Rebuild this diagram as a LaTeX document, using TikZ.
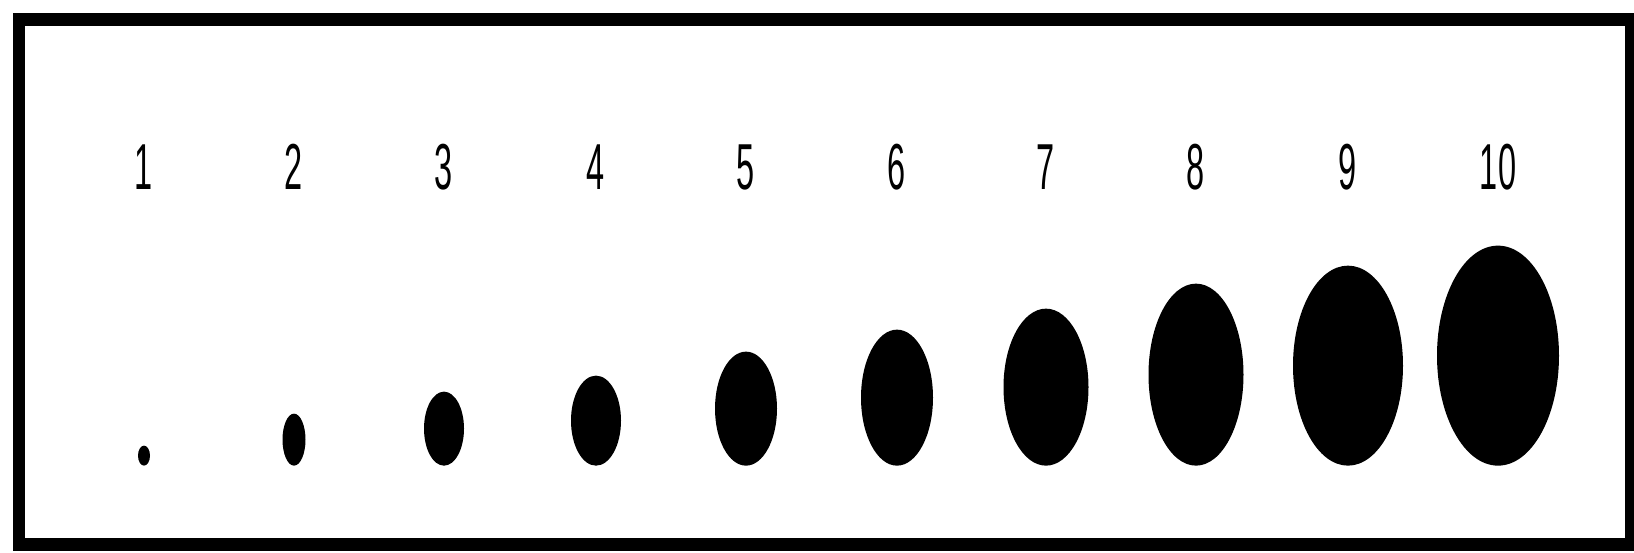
\documentclass[tikz,border=0pt]{standalone}
\usepackage{fontspec}
\setmainfont{Liberation Sans}
\usetikzlibrary{
    shapes.geometric
}
\tikzset{
  frame/.style={
    black,
    line width=0.26cm
  },
  blob/.style={
    ellipse,
    fill=black,
    inner sep=0pt,
    anchor=south
  },
  numlabel/.style={
    anchor=base,
    inner sep=0pt,
    font=\fontsize{37}{37}\selectfont
  }
}

\begin{document}
\begin{tikzpicture}[x=0.02cm,y=-0.02cm]
\useasboundingbox (0,0) rectangle (1634,553);
\draw[frame] (19,20) rectangle (1631,545);
\foreach \spot/\px/\dotw/\doth in {1/144/12/20, 2/294/23/52, 3/444/40/74,
    4/596/50/90, 5/746/62/114, 6/897/72/136, 7/1046/85/157,
    8/1196/95/182, 9/1348/110/200, 10/1498/122/220} {
\node[numlabel] (l\spot) at (\px,190) {\scalebox{0.5}[1]{\spot}};
\node[blob, minimum width=\dotw*0.02cm, minimum height=\doth*0.02cm] (d\spot) at (\px,466) {};
}
\end{tikzpicture}
\end{document}
